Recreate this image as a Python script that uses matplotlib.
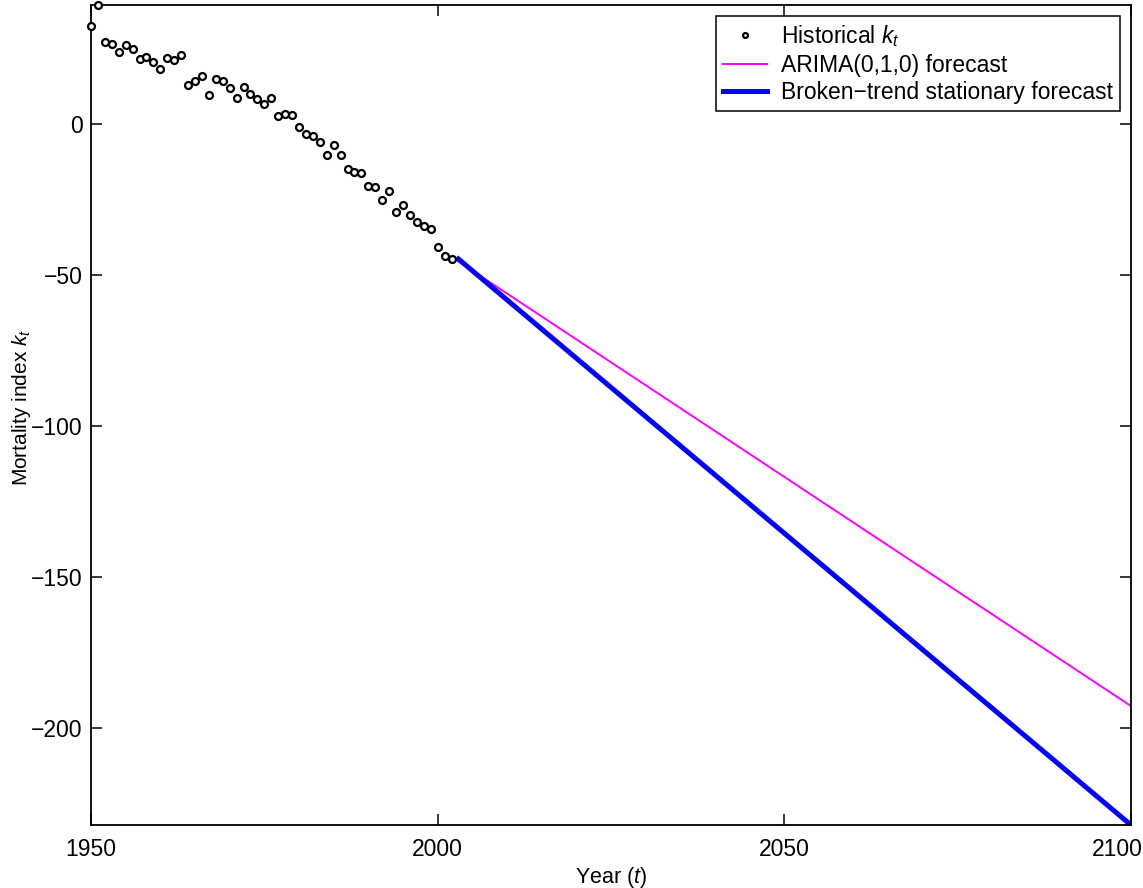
import matplotlib
matplotlib.use("Agg")
import matplotlib.pyplot as plt
import matplotlib.transforms as mtransforms
import numpy as np

plt.rcParams["font.family"] = ["Liberation Sans", "DejaVu Sans"]
plt.rcParams["mathtext.fontset"] = "custom"
plt.rcParams["mathtext.rm"] = "Liberation Sans"
plt.rcParams["mathtext.it"] = "Liberation Sans:italic"

# historical mortality index, 1950-2002
hist_years = np.arange(1950, 2003)
hist_kt = [
    32.6, 39.3, 27.2, 26.4, 23.9, 26.2, 24.8, 21.6, 22.3, 20.5,
    18.2, 21.9, 21.3, 22.7, 13.0, 14.2, 15.8, 9.7, 15.0, 14.2,
    11.8, 8.5, 12.2, 10.0, 8.3, 6.5, 8.6, 2.7, 3.2, 3.0,
    -1.0, -3.3, -4.0, -6.0, -10.4, -7.1, -10.4, -15.0, -15.9, -16.3,
    -20.4, -21.0, -25.2, -22.3, -29.1, -26.7, -30.2, -32.5, -33.7, -34.9,
    -40.8, -43.8, -44.7,
]

# forecasts (straight lines, start and end values)
fc_years = [2003, 2100]
arima_fc = [-45.5, -192.7]
broken_fc = [-44.7, -232.1]

fig = plt.figure(figsize=(11.43, 8.88), dpi=100)
ax = fig.add_axes([0.0796, 0.0709, 0.9099, 0.9235])

ax.plot(hist_years, hist_kt, linestyle="none", marker="o", markersize=5,
        markerfacecolor="white", markeredgecolor="black", markeredgewidth=1.6,
        label=r"Historical $k_t$", clip_on=False, zorder=3)
ax.plot(fc_years, arima_fc, color="#ff00ff", linewidth=1.4,
        label="ARIMA(0,1,0) forecast")
ax.plot(fc_years, broken_fc, color="#0000ff", linewidth=3.6,
        label="Broken\u2212trend stationary forecast")

ax.set_xlim(1950, 2100)
ax.set_ylim(-232.1, 39.4)
ax.set_xticks([1950, 2000, 2050, 2100])
ax.set_yticks([-200, -150, -100, -50, 0])
ax.set_yticklabels(["\u2212200", "\u2212150", "\u2212100", "\u221250", "0"])

ax.tick_params(direction="in", length=8, width=1.1, labelsize=16.5,
               top=True, right=True)
ax.tick_params(axis="x", pad=9)
ax.tick_params(axis="y", pad=6)
for s in ax.spines.values():
    s.set_linewidth(1.3)

# last x label sits a little inside the figure, as in the original
last = ax.get_xticklabels()[-1]
last.set_transform(last.get_transform() +
                   mtransforms.ScaledTranslation(-0.14, 0, fig.dpi_scale_trans))

ax.set_xlabel(r"Year ($t$)", fontsize=15.5, labelpad=3)
ax.set_ylabel(r"Mortality index $k_t$", fontsize=15, labelpad=0)
ax.yaxis.set_label_coords(-0.056, 0.51)

leg = ax.legend(loc="upper right", fontsize=16.5, frameon=True, fancybox=False,
                edgecolor="black", framealpha=1, borderaxespad=0.5,
                handlelength=1.9, handletextpad=0.6, borderpad=0.3,
                labelspacing=0.2, markerscale=0.7)
leg.get_frame().set_linewidth(1.1)

fig.savefig("out.png", dpi=100)
